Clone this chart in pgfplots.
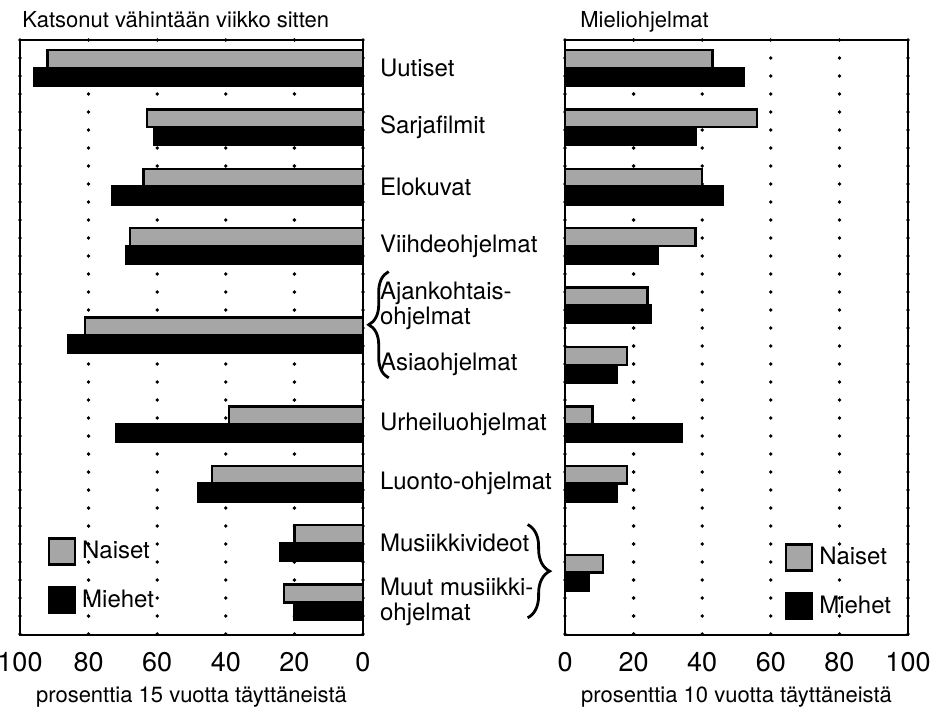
\documentclass[border=0pt]{standalone}
\usepackage{pgfplots}
\pgfplotsset{compat=1.18}
\usepackage{fontspec}
\setmainfont{TeX Gyre Heros}
\usetikzlibrary{decorations.pathreplacing}
\newcommand\lab{\fontsize{12}{12.5}\selectfont}
\newcommand\ttl{\fontsize{11}{12}\selectfont}
\newcommand\tck{\fontsize{13.5}{14}\selectfont}

\pgfplotsset{
  panel/.style={
    scale only axis,
    width=171.5pt, height=297.5pt,
    xmin=0, xmax=100,
    ymin=-0.47, ymax=9.55,
    y dir=reverse,
    xbar, bar width=0.3,
    xtick={0,20,...,100},
    major tick length=0pt,
    xmajorgrids,
    major grid style={black, line width=1.9pt, line cap=round, dash pattern=on 0pt off 9pt},
    axis line style={line width=1.4pt},
    /pgf/number format/assume math mode=true,
    xticklabel style={font=\tck, yshift=-5pt},
    xlabel style={font=\ttl, at={(axis description cs:0.5,0)}, anchor=center, yshift=-31pt},
    legend style={draw=none, fill=none, inner sep=0pt, font=\lab,
      row sep=10pt, cells={anchor=west}, nodes={inner xsep=3pt, inner ysep=0pt}},
    legend image code/.code={\draw[#1, line width=1.2pt] (0pt,-6.5pt) rectangle (13pt,6.5pt);},
  },
  nai/.style={draw=black, line width=1.2pt, fill=black!35, bar shift=-0.15},
  mie/.style={draw=black, line width=1.2pt, fill=black, bar shift=0.15},
}

\begin{document}
\begin{tikzpicture}

% left panel: watched at least a week ago
\begin{axis}[panel,
  name=L,
  x dir=reverse,
  clip=false,
  ytick={0,1,...,9},
  yticklabel pos=right,
  yticklabels={Uutiset, Sarjafilmit, Elokuvat, Viihdeohjelmat,
    {Ajankohtais-\\ohjelmat}, Asiaohjelmat, Urheiluohjelmat,
    Luonto-ohjelmat, Musiikkivideot, {Muut musiikki-\\ohjelmat}},
  yticklabel style={font=\lab, align=left, anchor=west, xshift=5pt},
  xlabel={prosenttia 15 vuotta täyttäneistä},
  legend style={at={(axis description cs:0.08,0.165)}, anchor=north west},
]
\addplot[nai] coordinates {
(92,0) (63,1) (64,2) (68,3) (81,4.5) (39,6) (44,7) (20,8) (23,9)
};
\addlegendentry{Naiset}
\addplot[mie] coordinates {
(96,0) (61,1) (73,2) (69,3) (86,4.5) (72,6) (48,7) (24,8) (20,9)
};
\addlegendentry{Miehet}
\draw[line width=1.4pt, decorate, decoration={brace, amplitude=10pt}]
  (axis cs:-7.5,5.22) -- (axis cs:-7.5,3.43);
\draw[line width=1.4pt, decorate, decoration={brace, amplitude=11pt}]
  (axis cs:-48,7.69) -- (axis cs:-48,9.26);
\end{axis}

% right panel: favourite programmes
\begin{axis}[panel,
  name=R,
  at={(272.5pt,0pt)},
  ytick=\empty,
  xlabel={prosenttia 10 vuotta täyttäneistä},
  legend style={at={(axis description cs:0.64,0.155)}, anchor=north west},
]
\addplot[nai] coordinates {
(43,0) (56,1) (40,2) (38,3) (24,4) (18,5) (8,6) (18,7) (11,8.5)
};
\addlegendentry{Naiset}
\addplot[mie] coordinates {
(52,0) (38,1) (46,2) (27,3) (25,4) (15,5) (34,6) (15,7) (7,8.5)
};
\addlegendentry{Miehet}
\end{axis}

\node[font=\ttl, anchor=base west, inner sep=0pt] at ([xshift=1pt, yshift=6pt]L.north west)
  {Katsonut vähintään viikko sitten};
\node[font=\ttl, anchor=base west, inner sep=0pt] at ([xshift=7.5pt, yshift=6pt]R.north west)
  {Mieliohjelmat};

\pgfresetboundingbox
\path (-10pt,-40.5pt) rectangle (460.5pt,317.5pt);
\end{tikzpicture}
\end{document}
